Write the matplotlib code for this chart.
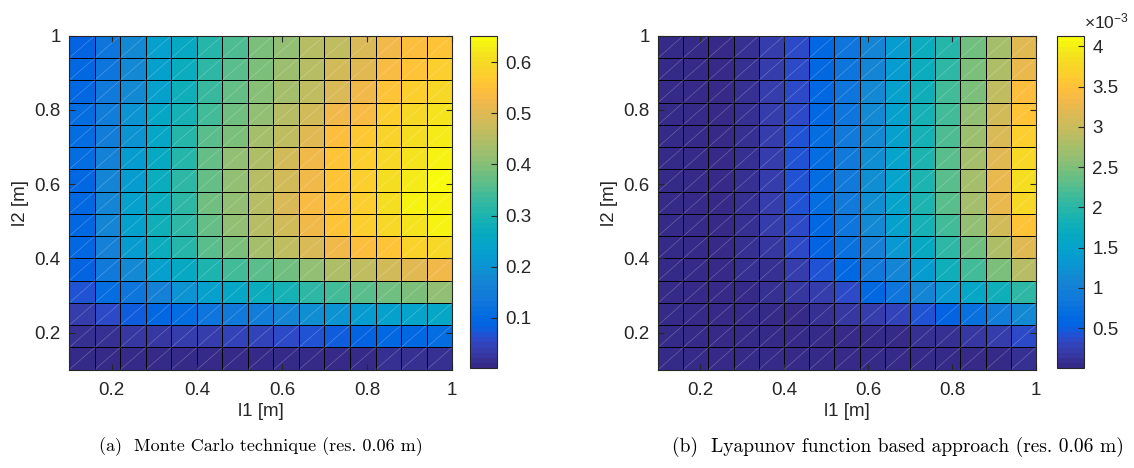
import matplotlib
matplotlib.use('Agg')
import matplotlib.pyplot as plt
import numpy as np
from matplotlib.colors import ListedColormap
from matplotlib.collections import LineCollection
from matplotlib.ticker import ScalarFormatter

# grid of link lengths (res. 0.06 m)
l1 = np.linspace(0.1, 1.0, 16)
l2 = np.linspace(0.1, 1.0, 16)

# Monte Carlo result, rows listed from l2 = 1 (top) down to l2 = 0.1
mc_vals = [
    [0.085, 0.130, 0.176, 0.228, 0.260, 0.312, 0.351, 0.390, 0.410, 0.449, 0.468, 0.494, 0.520, 0.540, 0.553],
    [0.098, 0.130, 0.176, 0.228, 0.273, 0.325, 0.364, 0.397, 0.423, 0.455, 0.481, 0.500, 0.533, 0.559, 0.579],
    [0.098, 0.137, 0.182, 0.234, 0.280, 0.332, 0.371, 0.403, 0.436, 0.462, 0.494, 0.527, 0.559, 0.579, 0.598],
    [0.104, 0.150, 0.195, 0.247, 0.293, 0.345, 0.384, 0.416, 0.449, 0.481, 0.520, 0.533, 0.579, 0.598, 0.618],
    [0.104, 0.150, 0.202, 0.254, 0.306, 0.358, 0.397, 0.429, 0.468, 0.500, 0.540, 0.566, 0.585, 0.605, 0.624],
    [0.104, 0.163, 0.215, 0.260, 0.312, 0.371, 0.410, 0.442, 0.481, 0.527, 0.553, 0.579, 0.598, 0.611, 0.631],
    [0.098, 0.169, 0.221, 0.267, 0.319, 0.371, 0.416, 0.449, 0.488, 0.527, 0.559, 0.579, 0.605, 0.624, 0.644],
    [0.098, 0.169, 0.228, 0.273, 0.325, 0.377, 0.416, 0.455, 0.494, 0.533, 0.559, 0.579, 0.605, 0.631, 0.640],
    [0.098, 0.169, 0.228, 0.280, 0.319, 0.371, 0.410, 0.449, 0.488, 0.520, 0.553, 0.572, 0.598, 0.618, 0.631],
    [0.098, 0.163, 0.221, 0.267, 0.306, 0.358, 0.397, 0.429, 0.462, 0.494, 0.520, 0.546, 0.559, 0.585, 0.598],
    [0.091, 0.143, 0.182, 0.228, 0.260, 0.299, 0.338, 0.358, 0.384, 0.416, 0.442, 0.462, 0.481, 0.500, 0.520],
    [0.065, 0.104, 0.130, 0.163, 0.195, 0.228, 0.247, 0.267, 0.293, 0.325, 0.338, 0.358, 0.377, 0.397, 0.410],
    [0.033, 0.052, 0.078, 0.098, 0.111, 0.124, 0.137, 0.150, 0.169, 0.189, 0.202, 0.215, 0.228, 0.241, 0.247],
    [0.013, 0.016, 0.023, 0.029, 0.033, 0.039, 0.042, 0.049, 0.059, 0.065, 0.075, 0.085, 0.094, 0.098, 0.104],
    [0.007, 0.007, 0.004, 0.006, 0.007, 0.003, 0.001, 0.003, 0.004, 0.003, 0.004, 0.007, 0.016, 0.016, 0.020],
]
mc_clim = (0.001, 0.651)

# Lyapunov based result (x 1e-3), rows from l2 = 1 (top) down to l2 = 0.1
lyap_vals = [
    [0.01, 0.01, 0.02, 0.08, 0.21, 0.37, 0.62, 0.78, 1.07, 1.36, 1.69, 1.98, 2.39, 2.76, 3.17],
    [0.01, 0.01, 0.02, 0.08, 0.21, 0.37, 0.62, 0.78, 1.07, 1.40, 1.73, 2.06, 2.47, 2.80, 3.26],
    [0.01, 0.01, 0.02, 0.08, 0.21, 0.37, 0.62, 0.82, 1.11, 1.44, 1.77, 2.14, 2.51, 2.93, 3.42],
    [0.01, 0.01, 0.02, 0.08, 0.21, 0.37, 0.62, 0.82, 1.11, 1.48, 1.81, 2.18, 2.60, 3.05, 3.50],
    [0.01, 0.01, 0.02, 0.08, 0.21, 0.41, 0.66, 0.87, 1.15, 1.48, 1.85, 2.22, 2.68, 3.13, 3.67],
    [0.01, 0.01, 0.02, 0.10, 0.21, 0.41, 0.66, 0.87, 1.19, 1.52, 1.90, 2.27, 2.72, 3.21, 3.79],
    [0.01, 0.01, 0.02, 0.10, 0.21, 0.41, 0.66, 0.87, 1.19, 1.52, 1.90, 2.27, 2.72, 3.25, 3.83],
    [0.01, 0.01, 0.02, 0.10, 0.21, 0.41, 0.66, 0.87, 1.19, 1.52, 1.90, 2.27, 2.72, 3.25, 3.79],
    [0.01, 0.01, 0.02, 0.08, 0.21, 0.37, 0.62, 0.82, 1.11, 1.44, 1.81, 2.18, 2.60, 3.05, 3.54],
    [0.01, 0.01, 0.04, 0.08, 0.17, 0.33, 0.58, 0.74, 0.99, 1.32, 1.65, 2.02, 2.39, 2.80, 3.17],
    [0.01, 0.02, 0.04, 0.08, 0.13, 0.25, 0.41, 0.62, 0.87, 1.07, 1.40, 1.77, 2.14, 2.47, 2.84],
    [0.01, 0.02, 0.03, 0.05, 0.08, 0.14, 0.21, 0.37, 0.62, 0.82, 1.07, 1.32, 1.57, 1.77, 2.06],
    [0.01, 0.015, 0.02, 0.03, 0.04, 0.06, 0.10, 0.14, 0.21, 0.29, 0.41, 0.58, 0.74, 0.91, 1.11],
    [0.005, 0.01, 0.02, 0.02, 0.02, 0.025, 0.03, 0.04, 0.05, 0.06, 0.08, 0.12, 0.17, 0.25, 0.33],
    [0.003, 0.005, 0.01, 0.01, 0.01, 0.01, 0.01, 0.01, 0.01, 0.01, 0.01, 0.02, 0.04, 0.06, 0.08],
]
lyap_clim = (0.003e-3, 4.124e-3)

# parula (MATLAB default colormap)
parula_rgb = [
    [0.2081, 0.1663, 0.5292], [0.2116, 0.1898, 0.5777], [0.2123, 0.2138, 0.6270], [0.2081, 0.2386, 0.6771],
    [0.1959, 0.2645, 0.7279], [0.1707, 0.2919, 0.7792], [0.1253, 0.3242, 0.8303], [0.0591, 0.3598, 0.8683],
    [0.0117, 0.3875, 0.8820], [0.0060, 0.4086, 0.8828], [0.0165, 0.4266, 0.8786], [0.0329, 0.4430, 0.8720],
    [0.0498, 0.4586, 0.8641], [0.0629, 0.4737, 0.8554], [0.0723, 0.4887, 0.8467], [0.0779, 0.5040, 0.8384],
    [0.0793, 0.5200, 0.8312], [0.0749, 0.5375, 0.8263], [0.0641, 0.5570, 0.8240], [0.0488, 0.5772, 0.8228],
    [0.0343, 0.5966, 0.8199], [0.0265, 0.6137, 0.8135], [0.0239, 0.6287, 0.8038], [0.0231, 0.6418, 0.7913],
    [0.0228, 0.6535, 0.7768], [0.0267, 0.6642, 0.7607], [0.0384, 0.6743, 0.7436], [0.0590, 0.6838, 0.7254],
    [0.0843, 0.6928, 0.7062], [0.1133, 0.7015, 0.6859], [0.1453, 0.7098, 0.6646], [0.1801, 0.7177, 0.6424],
    [0.2178, 0.7250, 0.6193], [0.2586, 0.7317, 0.5954], [0.3022, 0.7376, 0.5712], [0.3482, 0.7424, 0.5473],
    [0.3953, 0.7459, 0.5244], [0.4420, 0.7481, 0.5033], [0.4871, 0.7491, 0.4840], [0.5300, 0.7491, 0.4661],
    [0.5709, 0.7485, 0.4494], [0.6099, 0.7473, 0.4337], [0.6473, 0.7456, 0.4188], [0.6834, 0.7435, 0.4044],
    [0.7184, 0.7411, 0.3905], [0.7525, 0.7384, 0.3768], [0.7858, 0.7356, 0.3633], [0.8185, 0.7327, 0.3498],
    [0.8507, 0.7299, 0.3360], [0.8824, 0.7274, 0.3217], [0.9139, 0.7258, 0.3063], [0.9450, 0.7261, 0.2886],
    [0.9739, 0.7314, 0.2666], [0.9938, 0.7455, 0.2403], [0.9990, 0.7653, 0.2164], [0.9955, 0.7861, 0.1967],
    [0.9880, 0.8066, 0.1794], [0.9789, 0.8271, 0.1633], [0.9697, 0.8481, 0.1475], [0.9626, 0.8705, 0.1309],
    [0.9589, 0.8949, 0.1132], [0.9598, 0.9218, 0.0948], [0.9661, 0.9514, 0.0755], [0.9763, 0.9831, 0.0538],
]
parula = ListedColormap(parula_rgb, name='parula').resampled(256)

plt.rcParams['font.family'] = ['Liberation Sans', 'DejaVu Sans']
plt.rcParams['mathtext.default'] = 'regular'
fs = 13.5
txt_col = '0.15'


class PlainSci(ScalarFormatter):
    # MATLAB style: no trailing zeros on colorbar labels
    def _set_format(self):
        self.format = '%g'


fig = plt.figure(figsize=(11.34, 4.68), dpi=100)


def draw_panel(ax_rect, cb_rect, vals, clim, sci=False):
    ax = fig.add_axes(ax_rect)
    cax = fig.add_axes(cb_rect)
    z = np.array(vals)[::-1]
    mesh = ax.pcolormesh(l1, l2, z, cmap=parula, vmin=clim[0], vmax=clim[1],
                         edgecolors='k', linewidth=0.6)
    # faint diagonal seams inside every face
    X, Y = np.meshgrid(l1, l2)
    segs = [[(X[i, j], Y[i, j]), (X[i + 1, j + 1], Y[i + 1, j + 1])]
            for i in range(len(l2) - 1) for j in range(len(l1) - 1)]
    ax.add_collection(LineCollection(segs, colors='white', linewidths=0.5, alpha=0.25))
    ax.set_xlim(0.1, 1.0)
    ax.set_ylim(0.1, 1.0)
    ax.set_xticks([0.2, 0.4, 0.6, 0.8, 1.0])
    ax.set_xticklabels(['0.2', '0.4', '0.6', '0.8', '1'])
    ax.set_yticks([0.2, 0.4, 0.6, 0.8, 1.0])
    ax.set_yticklabels(['0.2', '0.4', '0.6', '0.8', '1'])
    ax.tick_params(direction='in', top=True, right=True, length=4, colors=txt_col,
                   labelsize=fs)
    ax.tick_params(axis='x', pad=9)
    ax.tick_params(axis='y', pad=6)
    ax.set_xlabel('l1 [m]', color=txt_col, fontsize=fs, labelpad=3)
    ax.set_ylabel('l2 [m]', color=txt_col, fontsize=fs, labelpad=4)
    for s in ax.spines.values():
        s.set_color(txt_col)
        s.set_linewidth(0.8)

    cb = fig.colorbar(mesh, cax=cax)
    cb.outline.set_edgecolor(txt_col)
    cb.outline.set_linewidth(0.8)
    cax.tick_params(direction='in', length=4, colors=txt_col, labelsize=fs, pad=6)
    if sci:
        fmt = PlainSci()
        fmt.set_powerlimits((0, 0))
        cb.formatter = fmt
        cb.set_ticks([0.5e-3, 1e-3, 1.5e-3, 2e-3, 2.5e-3, 3e-3, 3.5e-3, 4e-3])
        cb.update_ticks()
        cax.yaxis.get_offset_text().set_visible(False)
        cax.text(1.0, 1.015, r'$\times10^{-3}$', transform=cax.transAxes,
                 ha='left', va='bottom', color=txt_col, fontsize=fs - 1)
    else:
        cb.set_ticks([0.1, 0.2, 0.3, 0.4, 0.5, 0.6])
    return ax


draw_panel([0.061, 0.210, 0.3377, 0.7137], [0.4145, 0.213, 0.0238, 0.7095], mc_vals, mc_clim)
draw_panel([0.5803, 0.210, 0.3333, 0.7137], [0.9321, 0.213, 0.0238, 0.7095],
           np.array(lyap_vals) * 1e-3, lyap_clim, sci=True)

fig.text(0.230, 0.045, '(a)  Monte Carlo technique (res. 0.06 m)', family='cmr10',
         fontsize=13, ha='center', va='center')
fig.text(0.792, 0.045, '(b)  Lyapunov function based approach (res. 0.06 m)', family='cmr10',
         fontsize=14, ha='center', va='center')

fig.savefig('out.png', dpi=100)
